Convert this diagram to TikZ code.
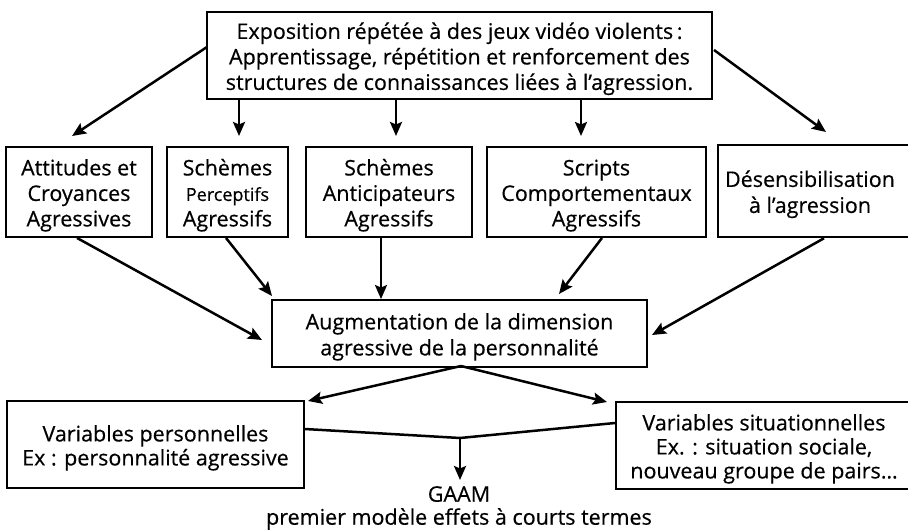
\documentclass[tikz,border=0pt]{standalone}
\usepackage{fontspec}
\setmainfont{Open Sans}[FakeBold=0.5]
\usetikzlibrary{arrows.meta}
\newcommand{\tstrut}{\rule{0pt}{23pt}}
\begin{document}
\begin{tikzpicture}[x=1pt,y=-1pt,
  box/.style={draw, line width=1.9pt, align=center, inner sep=0pt, font=\fontsize{21.5}{25.5}\selectfont},
  arr/.style={line width=2.5pt, -{Stealth[length=14pt,width=12pt,inset=2.5pt]}},
  ln/.style={line width=2.5pt},
  lbl/.style={align=center, inner sep=0pt, font=\fontsize{21.5}{23}\selectfont}]
\useasboundingbox (0,0) rectangle (908,530);
% boxes
\node[box, line width=2.7pt, minimum width=505pt, minimum height=87pt] (top) at (459.5,55.5)
  {\tstrut Exposition répétée à des jeux vidéo violents\,:\\Apprentissage, répétition et renforcement des\\structures de connaissances liées à l’agression.};
\node[box, minimum width=146pt, minimum height=90pt] (b1) at (79,192) {\tstrut Attitudes et\\Croyances\\Agressives};
\node[box, minimum width=121pt, minimum height=90pt] (b2) at (227.5,192) {\tstrut Schèmes\\{\fontsize{18}{25.5}\selectfont Perceptifs}\\Agressifs};
\node[box, minimum width=166pt, minimum height=90pt] (b3) at (389,192) {\tstrut Schèmes\\Anticipateurs\\Agressifs};
\node[box, minimum width=219pt, minimum height=90pt] (b4) at (596.5,192) {\tstrut Scripts\\Comportementaux\\Agressifs};
\node[box, line width=2.5pt, minimum width=196pt, minimum height=92pt, font=\fontsize{21.5}{26}\selectfont] (b5) at (816,191) {\tstrut\hspace*{-12pt}Désensibilisation\\\hspace*{-12pt}à l’agression};
\node[box, minimum width=375pt, minimum height=67pt, font=\fontsize{21.5}{26}\selectfont] (mid) at (459.5,333.5) {\tstrut Augmentation de la dimension\\agressive de la personnalité};
\node[box, minimum width=297pt, minimum height=87pt, font=\fontsize{21.5}{24}\selectfont] (bl) at (155.5,444.5) {\tstrut Variables personnelles\\Ex : personnalité agressive};
\node[box, minimum width=296pt, minimum height=87pt, font=\fontsize{21.5}{24}\selectfont] (br) at (764,445.5) {\tstrut Variables situationnelles\\Ex. : situation sociale,\\nouveau groupe de pairs…};
\node[lbl] (gaam) at (459,508) {GAAM\\premier modèle effets à courts termes};
% connection points
\coordinate (t1) at (207,47);
\coordinate (e1) at (72,136);
\coordinate (t5) at (714,50);
\coordinate (e5) at (826,132);
\coordinate (m1) at (262,340);
\coordinate (m2) at (272,296);
\coordinate (m4) at (559,294);
\coordinate (m5) at (652,335);
\coordinate (ms) at (461,366);
\coordinate (el) at (308,401);
\coordinate (er) at (607,402);
\coordinate (j) at (460,438);
\coordinate (g) at (460,480);
% arrows from top
\draw[arr] (t1) -- (e1);
\draw[arr] (top.south -| 239,0) -- (239,136);
\draw[arr] (top.south -| 396,0) -- (396,136);
\draw[arr] (top.south -| 581,0) -- (581,136);
\draw[arr] (t5) -- (e5);
% arrows to middle
\draw[arr] (b1.south -| 77,0) -- (m1);
\draw[arr] (b2.south -| 226,0) -- (m2);
\draw[arr] (b3.south -| 381,0) -- (mid.north -| 381,0);
\draw[arr] (b4.south -| 602,0) -- (m4);
\draw[arr] (b5.south -| 824,0) -- (m5);
% from middle
\draw[arr] (ms) -- (el);
\draw[arr] (ms) -- (er);
% bottom
\draw[ln] (bl.east |- 0,429) -- (j) -- (br.west |- 0,423);
\draw[arr] (j) -- (g);
\end{tikzpicture}
\end{document}
